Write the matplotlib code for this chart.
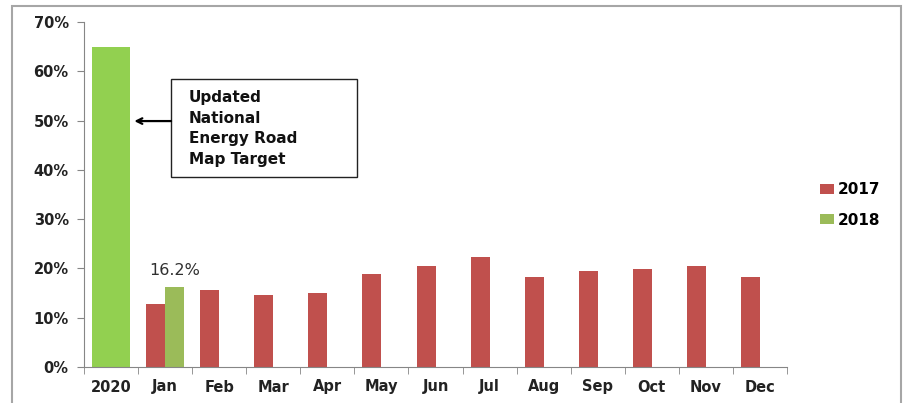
import matplotlib.pyplot as plt
from matplotlib.patches import Rectangle

# data
categories = ['2020', 'Jan', 'Feb', 'Mar', 'Apr', 'May', 'Jun',
              'Jul', 'Aug', 'Sep', 'Oct', 'Nov', 'Dec']
target_2020 = [65.0]
share_2017 = [12.7, 15.7, 14.7, 15.1, 18.8, 20.5, 22.4, 18.3, 19.5, 19.9, 20.5, 18.2]
share_2018 = [16.2]
y_ticks = [0, 10, 20, 30, 40, 50, 60, 70]

red = '#C0504D'
olive = '#9BBB59'
lime = '#92D050'
axis_grey = '#868686'

plt.rcParams['font.family'] = ['DejaVu Sans']

fig = plt.figure(figsize=(9.08, 4.03), dpi=100)
ax = fig.add_axes([84 / 908, 36 / 403, 703 / 908, 345 / 403])

w = 0.35
ax.bar([0], target_2020, width=0.7, color=lime)
x17 = [i - w / 2 for i in range(1, 13)]
b17 = ax.bar(x17, share_2017, width=w, color=red, label='2017')
x18 = [1 + w / 2]
b18 = ax.bar(x18, share_2018, width=w, color=olive, label='2018')

ax.text(x18[0], share_2018[0] + 1.8, '16.2%', ha='center', va='bottom',
        fontsize=11.5, color='#303030')

ax.set_xlim(-0.5, 12.5)
ax.set_ylim(0, 70)
ax.set_yticks(y_ticks)
ax.set_yticklabels([f'{t}%' for t in y_ticks], fontsize=10.5, fontweight='bold',
                   color='#222222')
ax.set_xticks(range(len(categories)))
ax.set_xticklabels(categories, fontsize=10.5, fontweight='bold', color='#222222')
ax.set_xticks([i - 0.5 for i in range(len(categories) + 1)], minor=True)
ax.tick_params(axis='x', which='major', length=0, pad=9)
ax.tick_params(axis='x', which='minor', length=5, color=axis_grey, direction='out')
ax.tick_params(axis='y', length=5, color=axis_grey, direction='out', pad=6)

for s in ['top', 'right']:
    ax.spines[s].set_visible(False)
for s in ['left', 'bottom']:
    ax.spines[s].set_color(axis_grey)

# annotation box with arrow to the 2020 target bar
ax.add_patch(Rectangle((1.11, 38.5), 3.43, 19.9, fill=False, ec='#222222', lw=1,
                       zorder=3, clip_on=False))
ax.text(1.44, 48.4, 'Updated\nNational\nEnergy Road\nMap Target',
        ha='left', va='center', fontsize=11, fontweight='bold',
        linespacing=1.45, color='#111111')
ax.annotate('', xy=(0.43, 49.9), xytext=(1.11, 49.9),
            arrowprops=dict(arrowstyle='->', color='black', lw=1.6,
                            shrinkA=0, shrinkB=0))

ax.legend(handles=[b17, b18], loc='center left', frameon=False,
          bbox_to_anchor=(806 / 908, 1 - 205 / 403), bbox_transform=fig.transFigure,
          prop={'size': 11, 'weight': 'bold'}, handlelength=0.9, handleheight=0.6,
          handletextpad=0.3, labelspacing=1.0)

# outer chart frame
fig.patches.append(Rectangle((12 / 908, -0.05), 889 / 908, 1.05 - 6 / 403,
                             transform=fig.transFigure, fill=False,
                             ec='#A6A6A6', lw=1.5))

fig.savefig('out.png', dpi=100)
